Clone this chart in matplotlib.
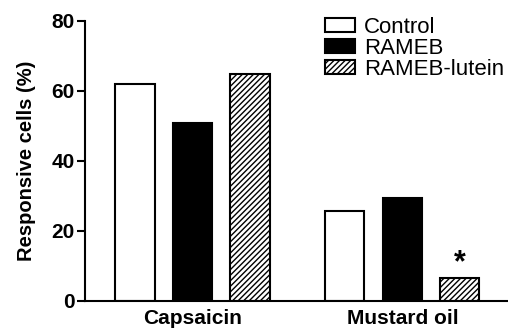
import matplotlib
matplotlib.use('Agg')
import matplotlib.pyplot as plt
import numpy as np

plt.rcParams['font.family'] = ['Liberation Sans', 'DejaVu Sans']
plt.rcParams['hatch.linewidth'] = 1.0

categories = ['Capsaicin', 'Mustard oil']
series = ['Control', 'RAMEB', 'RAMEB-lutein']
control = [62.1, 25.7]
rameb = [51.0, 29.5]
rameb_lutein = [64.9, 6.5]
significant = [False, True]  # asterisk over RAMEB-lutein

W, H = 508, 331
fig = plt.figure(figsize=(W / 100, H / 100), dpi=100)
ax = fig.add_axes([85 / W, 1 - 301 / H, 1 - 85 / W, 280 / H])

centers = np.array([0.0, 3.65])
width = 0.68
lw = 1.5
styles = [dict(facecolor='white', hatch=None),
          dict(facecolor='black', hatch=None),
          dict(facecolor='white', hatch='//////')]
handles = []
for i, (vals, st) in enumerate(zip([control, rameb, rameb_lutein], styles)):
    b = ax.bar(centers + (i - 1), vals, width=width, edgecolor='black',
               linewidth=lw, label=series[i], **st)
    handles.append(b)

for c, v, sig in zip(centers, rameb_lutein, significant):
    if sig:
        ax.text(c + 1, v + 4.3, '*', ha='center', va='center',
                fontsize=22, fontweight='bold')

ax.set_xlim((85 - 192.5) / 57.5, (508 - 192.5) / 57.5)
ax.set_ylim(0, 80)
ax.set_yticks([0, 20, 40, 60, 80])
ax.set_xticks(centers)
ax.set_xticklabels(categories, fontsize=15, fontweight='bold')
ax.tick_params(axis='x', length=0, pad=6)
ax.tick_params(axis='y', length=5.5, width=lw, labelsize=15, pad=2)
for lab in ax.get_yticklabels():
    lab.set_fontweight('bold')
ax.set_ylabel('Responsive cells (%)', fontsize=14.5, fontweight='bold',
              labelpad=11)
for s in ['top', 'right']:
    ax.spines[s].set_visible(False)
for s in ['left', 'bottom']:
    ax.spines[s].set_linewidth(lw)
    ax.spines[s].set_clip_on(False)

fig.legend(handles=handles, loc='upper left',
           bbox_to_anchor=(325 / W, 1 - 17 / H), frameon=False,
           fontsize=16, handlelength=1.35, handleheight=0.57,
           handletextpad=0.4, labelspacing=0.0, borderpad=0,
           borderaxespad=0)

fig.savefig('out.png', dpi=100)
